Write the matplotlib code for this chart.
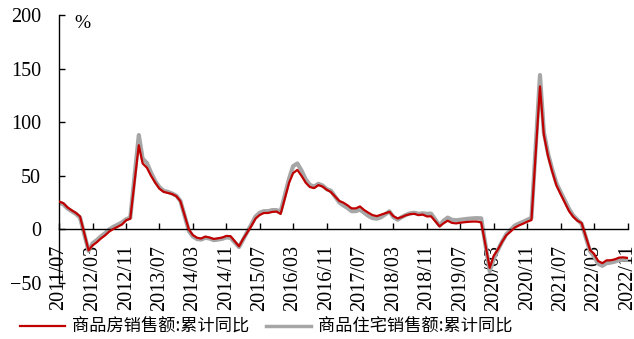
import numpy as np
import pandas as pd
import matplotlib
matplotlib.use("Agg")
import matplotlib.pyplot as plt
import matplotlib.dates as mdates

# monthly cumulative figures, Jan is merged into Feb so it has no point
months = pd.date_range("2011-07-01", "2022-11-01", freq="MS")
months = months[months.month != 1]

# 商品房销售额:累计同比 (%)
sales_all = [
    26.0, 24.5, 20.5, 17.8, 15.4, 12.1,                               # 2011
    -19.5, -15.0, -12.0, -8.5, -5.5, -2.0, 0.5, 2.5, 4.5, 8.5, 10.0,  # 2012
    78.5, 61.5, 57.5, 50.0, 43.5, 38.0, 35.0, 34.0, 33.0, 31.0, 26.3, # 2013
    -0.1, -5.2, -7.8, -8.5, -6.7, -7.6, -8.9, -8.3, -7.6, -6.1, -6.3, # 2014
    -15.8, -9.3, -3.1, 3.0, 10.0, 13.4, 15.3, 15.3, 16.3, 16.6, 14.4, # 2015
    43.6, 52.5, 55.5, 50.0, 43.5, 39.5, 38.5, 41.3, 40.0, 37.0, 34.8, # 2016
    26.5, 25.0, 22.5, 19.6, 19.6, 21.4, 18.0, 15.5, 13.3, 12.4, 13.7, # 2017
    16.4, 12.4, 10.2, 11.5, 13.2, 14.2, 14.5, 13.3, 13.8, 12.1, 12.2, # 2018
    2.8, 5.6, 8.1, 6.1, 5.6, 6.2, 6.7, 7.1, 7.3, 7.3, 6.5,            # 2019
    -35.9, -24.7, -18.6, -11.6, -5.4, -2.1, 1.6, 3.7, 5.3, 7.2, 8.7,  # 2020
    133.4, 88.5, 68.2, 54.0, 41.0, 33.0, 25.0, 17.0, 11.8, 8.0, 6.0,  # 2021
    -19.3, -22.7, -29.5, -31.5, -28.9, -28.8, -27.9, -26.3, -26.1, -26.6,  # 2022
]

# 商品住宅销售额:累计同比 (%)
sales_res = [
    25.0, 23.5, 19.5, 17.0, 14.5, 11.0,
    -20.0, -13.0, -10.0, -6.5, -3.5, 0.0, 2.5, 4.5, 6.5, 9.5, 10.9,
    88.0, 66.0, 62.0, 53.0, 45.0, 39.5, 36.0, 35.0, 33.5, 31.5, 26.6,
    -1.5, -6.5, -9.0, -9.5, -7.8, -8.5, -10.0, -9.5, -8.8, -7.5, -7.8,
    -16.5, -10.0, -2.5, 4.5, 12.0, 15.5, 17.0, 17.0, 18.0, 18.0, 16.6,
    47.5, 59.0, 61.5, 55.0, 46.5, 41.5, 40.0, 42.5, 41.0, 37.5, 36.1,
    25.0, 22.5, 20.0, 17.0, 17.0, 18.5, 15.5, 12.5, 10.5, 10.0, 11.3,
    16.8, 11.5, 9.0, 11.5, 13.5, 15.0, 15.5, 14.5, 15.0, 14.5, 14.7,
    3.5, 8.0, 11.0, 9.0, 8.5, 9.0, 9.5, 10.0, 10.3, 10.5, 10.3,
    -39.0, -27.5, -19.0, -11.5, -4.5, -0.5, 3.5, 5.5, 7.0, 9.0, 10.8,
    144.0, 91.0, 70.5, 56.0, 43.0, 35.0, 27.0, 19.0, 13.0, 9.0, 5.3,
    -20.5, -25.0, -32.0, -34.0, -31.5, -31.0, -30.0, -28.5, -28.0, -28.0,
]

tick_dates = pd.date_range("2011-07-01", "2022-11-01", freq="8MS")

serif = ["Liberation Serif", "DejaVu Serif"]
cjk = ["Noto Sans CJK SC", "DejaVu Sans"]

fig = plt.figure(figsize=(6.34, 3.39), dpi=100)
ax = fig.add_axes([0.0931, 0.1652, 0.8974, 0.7906])

ax.plot(months, sales_res, color="#A6A6A6", lw=3.0, label="商品住宅销售额:累计同比", zorder=2)
ax.plot(months, sales_all, color="#C00000", lw=1.6, label="商品房销售额:累计同比", zorder=3)

ax.set_ylim(-50, 200)
ax.set_yticks([-50, 0, 50, 100, 150, 200])
ax.set_xlim(months[0], pd.Timestamp("2022-11-04"))
ax.set_xticks(tick_dates)
ax.xaxis.set_major_formatter(mdates.DateFormatter("%Y/%m"))

ax.spines["top"].set_visible(False)
ax.spines["right"].set_visible(False)
ax.spines["bottom"].set_position(("data", 0))
for s in ("left", "bottom"):
    ax.spines[s].set_linewidth(1.0)

ax.tick_params(axis="y", direction="in", length=4, width=1, pad=13)
ax.tick_params(axis="x", direction="in", length=4, width=1, pad=11)
for lbl in ax.get_yticklabels():
    lbl.set_fontfamily(serif)
    lbl.set_fontsize(14.5)
for lbl in ax.get_xticklabels():
    lbl.set_fontfamily(serif)
    lbl.set_fontsize(14.5)
    lbl.set_rotation(90)
    lbl.set_va("top")
    lbl.set_ha("center")

fig.text(0.118, 0.931, "%", family=serif, fontsize=14, ha="left", va="center")

handles, labels = ax.get_legend_handles_labels()
leg = fig.legend(handles[::-1], labels[::-1], loc="center",
                 bbox_to_anchor=(266 / 634, 12 / 339), ncol=2, frameon=False,
                 prop={"family": cjk, "size": 12.4}, handlelength=2.6,
                 handletextpad=0.4, columnspacing=1.0, borderaxespad=0)
leg.get_lines()[1].set_linewidth(2.5)

fig.savefig("out.png", dpi=100)
